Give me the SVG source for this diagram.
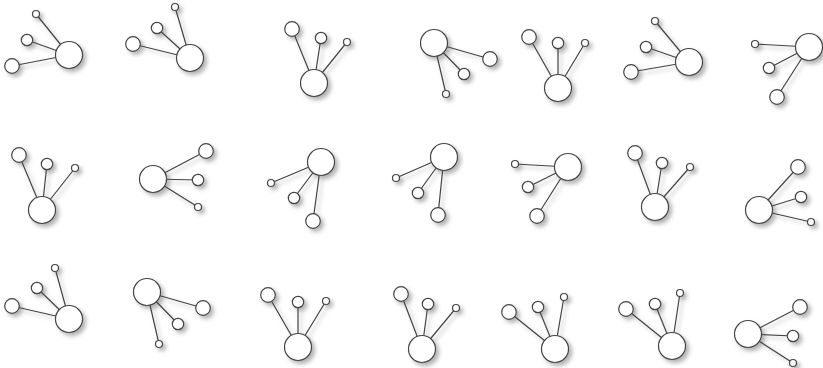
<svg xmlns="http://www.w3.org/2000/svg" width="823" height="368" viewBox="0 0 823 368">
<defs>
<filter id="sh" x="-30%" y="-30%" width="170%" height="170%">
<feDropShadow dx="3" dy="3" stdDeviation="2.2" flood-color="#000" flood-opacity="0.3"/>
</filter>
<style>
.e{stroke:#444;stroke-width:1.2;fill:none}
.n{fill:#fff;stroke:#444;stroke-width:1.2}
</style>
</defs>
<rect width="823" height="368" fill="#fff"/>
<g filter="url(#sh)">
<g id="connectors" class="e">
<path d="M69,55L36,14M69,55L27,40M69,55L12,66"/>
<path d="M190,58L175,7M190,58L157,28M190,58L133,44"/>
<path d="M314,83L292,29M314,83L321,38M314,83L347,42"/>
<path d="M434,43L490,59M434,43L464,74M434,43L446,94"/>
<path d="M558,88L529,37M558,88L558,43M558,88L585,43"/>
<path d="M689,62L655,21M689,62L646,47M689,62L631,72"/>
<path d="M809,47L755,44M809,47L769,68M809,47L777,97"/>
<path d="M42,210L19,155M42,210L47,164M42,210L75,168"/>
<path d="M153,179L206,151M153,179L198,180M153,179L198,207"/>
<path d="M321,162L271,183M321,162L294,198M321,162L313,221"/>
<path d="M444,157L396,178M444,157L418,193M444,157L438,215"/>
<path d="M568,167L515,164M568,167L528,187M568,167L537,216"/>
<path d="M655,207L635,153M655,207L662,163M655,207L690,167"/>
<path d="M759,210L798,167M759,210L801,197M759,210L811,222"/>
<path d="M69,319L55,268M69,319L37,288M69,319L12,306"/>
<path d="M147,292L203,308M147,292L178,324M147,292L159,344"/>
<path d="M298,347L268,295M298,347L298,302M298,347L326,301"/>
<path d="M422,349L401,294M422,349L428,304M422,349L456,308"/>
<path d="M555,349L509,312M555,349L538,307M555,349L564,297"/>
<path d="M672,346L626,309M672,346L655,304M672,346L680,293"/>
<path d="M748,334L800,307M748,334L793,336M748,334L793,363"/>
</g>
<g id="nA" class="n"><circle cx="69" cy="55" r="13.5"/><circle cx="36" cy="14" r="3.5"/><circle cx="27" cy="40" r="5.7"/><circle cx="12" cy="66" r="7.3"/></g>
<g id="nB" class="n"><circle cx="190" cy="58" r="13.5"/><circle cx="175" cy="7" r="3.5"/><circle cx="157" cy="28" r="5.7"/><circle cx="133" cy="44" r="7.3"/></g>
<g id="nC" class="n"><circle cx="314" cy="83" r="13.5"/><circle cx="292" cy="29" r="7.3"/><circle cx="321" cy="38" r="5.7"/><circle cx="347" cy="42" r="3.5"/></g>
<g id="nD" class="n"><circle cx="434" cy="43" r="13.5"/><circle cx="490" cy="59" r="7.3"/><circle cx="464" cy="74" r="5.7"/><circle cx="446" cy="94" r="3.5"/></g>
<g id="nE" class="n"><circle cx="558" cy="88" r="13.5"/><circle cx="529" cy="37" r="7.3"/><circle cx="558" cy="43" r="5.7"/><circle cx="585" cy="43" r="3.5"/></g>
<g id="nF" class="n"><circle cx="689" cy="62" r="13.5"/><circle cx="655" cy="21" r="3.5"/><circle cx="646" cy="47" r="5.7"/><circle cx="631" cy="72" r="7.3"/></g>
<g id="nG" class="n"><circle cx="809" cy="47" r="13.5"/><circle cx="755" cy="44" r="3.5"/><circle cx="769" cy="68" r="5.7"/><circle cx="777" cy="97" r="7.3"/></g>
<g id="nH" class="n"><circle cx="42" cy="210" r="13.5"/><circle cx="19" cy="155" r="7.3"/><circle cx="47" cy="164" r="5.7"/><circle cx="75" cy="168" r="3.5"/></g>
<g id="nI" class="n"><circle cx="153" cy="179" r="13.5"/><circle cx="206" cy="151" r="7.3"/><circle cx="198" cy="180" r="5.7"/><circle cx="198" cy="207" r="3.5"/></g>
<g id="nJ" class="n"><circle cx="321" cy="162" r="13.5"/><circle cx="271" cy="183" r="3.5"/><circle cx="294" cy="198" r="5.7"/><circle cx="313" cy="221" r="7.3"/></g>
<g id="nK" class="n"><circle cx="444" cy="157" r="13.5"/><circle cx="396" cy="178" r="3.5"/><circle cx="418" cy="193" r="5.7"/><circle cx="438" cy="215" r="7.3"/></g>
<g id="nL" class="n"><circle cx="568" cy="167" r="13.5"/><circle cx="515" cy="164" r="3.5"/><circle cx="528" cy="187" r="5.7"/><circle cx="537" cy="216" r="7.3"/></g>
<g id="nM" class="n"><circle cx="655" cy="207" r="13.5"/><circle cx="635" cy="153" r="7.3"/><circle cx="662" cy="163" r="5.7"/><circle cx="690" cy="167" r="3.5"/></g>
<g id="nN" class="n"><circle cx="759" cy="210" r="13.5"/><circle cx="798" cy="167" r="7.3"/><circle cx="801" cy="197" r="5.7"/><circle cx="811" cy="222" r="3.5"/></g>
<g id="nO" class="n"><circle cx="69" cy="319" r="13.5"/><circle cx="55" cy="268" r="3.5"/><circle cx="37" cy="288" r="5.7"/><circle cx="12" cy="306" r="7.3"/></g>
<g id="nP" class="n"><circle cx="147" cy="292" r="13.5"/><circle cx="203" cy="308" r="7.3"/><circle cx="178" cy="324" r="5.7"/><circle cx="159" cy="344" r="3.5"/></g>
<g id="nQ" class="n"><circle cx="298" cy="347" r="13.5"/><circle cx="268" cy="295" r="7.3"/><circle cx="298" cy="302" r="5.7"/><circle cx="326" cy="301" r="3.5"/></g>
<g id="nR" class="n"><circle cx="422" cy="349" r="13.5"/><circle cx="401" cy="294" r="7.3"/><circle cx="428" cy="304" r="5.7"/><circle cx="456" cy="308" r="3.5"/></g>
<g id="nS" class="n"><circle cx="555" cy="349" r="13.5"/><circle cx="509" cy="312" r="7.3"/><circle cx="538" cy="307" r="5.7"/><circle cx="564" cy="297" r="3.5"/></g>
<g id="nT" class="n"><circle cx="672" cy="346" r="13.5"/><circle cx="626" cy="309" r="7.3"/><circle cx="655" cy="304" r="5.7"/><circle cx="680" cy="293" r="3.5"/></g>
<g id="nU" class="n"><circle cx="748" cy="334" r="13.5"/><circle cx="800" cy="307" r="7.3"/><circle cx="793" cy="336" r="5.7"/><circle cx="793" cy="363" r="3.5"/></g>
</g>
</svg>
